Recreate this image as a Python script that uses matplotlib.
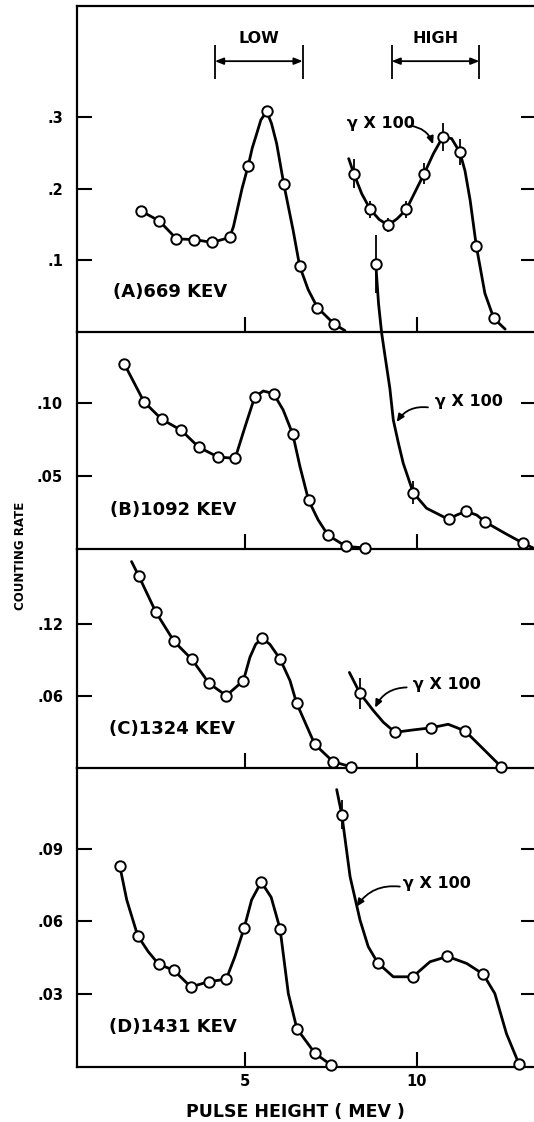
import matplotlib
matplotlib.use("Agg")
import matplotlib.pyplot as plt

# ---- data (x = pulse height MeV, y = counting rate) ----
# panel A, 669 keV
a_pts_x = [1.95, 2.49, 2.99, 3.51, 4.03, 4.54, 5.08, 5.62, 6.12, 6.58, 7.10, 7.59]
a_pts_y = [.169, .155, .130, .129, .125, .132, .232, .308, .206, .092, .034, .011]
a_line_x = [1.95, 2.49, 2.99, 3.51, 4.03, 4.54, 4.65, 4.74, 4.90, 5.08, 5.20, 5.33, 5.45, 5.62, 5.76, 5.91, 6.12, 6.39, 6.58, 6.83, 7.10, 7.59, 7.90]
a_line_y = [.169, .155, .130, .129, .125, .132, .147, .166, .200, .232, .257, .277, .296, .308, .291, .263, .206, .142, .092, .059, .034, .011, .002]
ag_pts_x = [8.16, 8.64, 9.16, 9.69, 10.21, 10.75, 11.25, 11.73, 12.24]
ag_pts_y = [.221, .171, .149, .171, .221, .272, .251, .120, .019]
ag_err = [.020, .012, .010, .012, .015, .020, .018, 0, 0]
ag_line_x = [8.01, 8.16, 8.39, 8.64, 8.90, 9.16, 9.42, 9.69, 9.95, 10.21, 10.48, 10.75, 11.01, 11.25, 11.40, 11.55, 11.73, 11.98, 12.24, 12.57]
ag_line_y = [.242, .221, .193, .171, .157, .149, .158, .171, .196, .221, .249, .272, .270, .251, .225, .184, .120, .054, .019, .004]

# panel B, 1092 keV
b_pts_x = [1.47, 2.04, 2.56, 3.13, 3.64, 4.20, 4.70, 5.27, 5.82, 6.38, 6.84, 7.41, 7.93, 8.48]
b_pts_y = [.1267, .1009, .0888, .0813, .0697, .0630, .0621, .1041, .1064, .0786, .0334, .0094, .0018, .0007]
b_line_x = [1.47, 2.04, 2.56, 3.13, 3.64, 4.20, 4.70, 4.99, 5.27, 5.52, 5.82, 6.10, 6.38, 6.59, 6.84, 7.12, 7.41, 7.93, 8.48]
b_line_y = [.1267, .1009, .0888, .0813, .0697, .0630, .0621, .0838, .1041, .1082, .1064, .0952, .0786, .0564, .0334, .0199, .0094, .0018, .0007]
bg_pts_x = [8.80, 9.89, 10.92, 11.43, 11.99, 13.10]
bg_pts_y = [.195, .0386, .0203, .0258, .0185, .0039]
bg_err = [.020, .008, 0, 0, 0, 0]
bg_line_x = [8.80, 8.88, 8.97, 9.07, 9.21, 9.31, 9.46, 9.60, 9.89, 10.28, 10.92, 11.16, 11.43, 11.74, 11.99, 12.57, 13.10, 13.45]
bg_line_y = [.195, .168, .148, .132, .110, .0884, .0724, .0587, .0386, .0279, .0203, .0233, .0258, .0233, .0185, .0107, .0039, 0.0]

# panel C, 1324 keV
c_pts_x = [1.89, 2.39, 2.92, 3.44, 3.94, 4.44, 4.94, 5.49, 6.01, 6.49, 7.02, 7.55, 8.07]
c_pts_y = [.160, .1297, .1053, .0903, .0703, .0600, .0725, .1078, .0906, .0539, .0194, .0050, .0006]
c_line_x = [1.68, 1.89, 2.39, 2.92, 3.44, 3.94, 4.44, 4.94, 5.13, 5.30, 5.49, 5.71, 6.01, 6.30, 6.49, 7.02, 7.55, 8.07]
c_line_y = [.172, .160, .1297, .1053, .0903, .0703, .0600, .0725, .0920, .1030, .1078, .1030, .0906, .0725, .0539, .0194, .0050, .0006]
cg_pts_x = [8.34, 9.36, 10.40, 11.40, 12.45]
cg_pts_y = [.0619, .0294, .0331, .0306, .0008]
cg_err = [.013, 0, 0, 0, 0]
cg_line_x = [8.03, 8.34, 8.73, 9.02, 9.36, 9.89, 10.40, 10.91, 11.40, 11.93, 12.45]
cg_line_y = [.0794, .0619, .0475, .0378, .0294, .0314, .0331, .0361, .0306, .0156, .0008]

# panel D, 1431 keV
d_pts_x = [1.34, 1.86, 2.47, 2.91, 3.41, 3.93, 4.44, 4.96, 5.46, 6.01, 6.50, 7.03, 7.49]
d_pts_y = [.0827, .0541, .0424, .0399, .0330, .0352, .0362, .0572, .0763, .0569, .0158, .0056, .0009]
d_line_x = [1.34, 1.54, 1.86, 2.17, 2.47, 2.91, 3.41, 3.93, 4.44, 4.69, 4.96, 5.18, 5.46, 5.75, 6.01, 6.25, 6.50, 7.03, 7.49]
d_line_y = [.0827, .0689, .0541, .0475, .0424, .0399, .0330, .0352, .0362, .0454, .0572, .0689, .0763, .0700, .0569, .0303, .0158, .0056, .0009]
dg_pts_x = [7.81, 8.86, 9.88, 10.89, 11.93, 12.97]
dg_pts_y = [.104, .0429, .0372, .0456, .0383, .0014]
dg_err = [.006, 0, 0, 0, 0, 0]
dg_line_x = [7.66, 7.81, 8.05, 8.34, 8.58, 8.86, 9.31, 9.88, 10.38, 10.89, 11.45, 11.93, 12.27, 12.61, 12.97]
dg_line_y = [.1144, .104, .0785, .0606, .0496, .0429, .0372, .0372, .0434, .0456, .0427, .0383, .0303, .0137, .0014]

# y ticks per panel
a_ticks, a_labels = [.1, .2, .3], [".1", ".2", ".3"]
b_ticks, b_labels = [.05, .10], [".05", ".10"]
c_ticks, c_labels = [.06, .12], [".06", ".12"]
d_ticks, d_labels = [.03, .06, .09], [".03", ".06", ".09"]

W, H = 534, 1122
fig = plt.figure(figsize=(W / 100, H / 100), dpi=100)
fig.patch.set_facecolor("white")

FONT = dict(family="DejaVu Sans", fontweight="bold")


def make_axes(top, bottom, ylim, ticks, labels, top_spine=False, xlabels=False):
    ax = fig.add_axes([77 / W, 1 - bottom / H, (536 - 77) / W, (bottom - top) / H])
    ax.patch.set_visible(False)
    ax.set_xlim(0.09, 13.47)
    ax.set_ylim(*ylim)
    ax.spines["right"].set_visible(False)
    ax.spines["top"].set_visible(top_spine)
    for s in ax.spines.values():
        s.set_linewidth(1.6)
    ax.set_xticks([5, 10], ["5", "10"] if xlabels else ["", ""])
    ax.set_yticks(ticks, labels)
    ax.tick_params(direction="in", length=11, width=1.5, labelsize=10.5)
    ax.tick_params(axis="y", right=True, pad=10)
    ax.tick_params(axis="x", top=False, pad=5)
    for t in ax.get_xticklabels() + ax.get_yticklabels():
        t.set_fontweight("bold")
    return ax


def curve(ax, lx, ly, px, py, err=None):
    ax.plot(lx, ly, color="black", lw=2.0, solid_joinstyle="round",
            solid_capstyle="round", zorder=3, clip_on=False)
    if err is not None:
        lo = [y - e for y, e in zip(py, err)]
        hi = [y + e for y, e in zip(py, err)]
        ax.vlines(px, lo, hi, color="black", lw=1.3, zorder=3, clip_on=False)
    ax.plot(px, py, "o", ms=7.5, mfc="white", mec="black", mew=1.4,
            zorder=4, clip_on=False)


def gamma_label(ax, tx, ty, start, end, rad):
    ax.text(tx, ty, "\u03b3 X 100", ha="left", va="center", fontsize=11.5, **FONT)
    ax.annotate("", xy=end, xytext=start,
                arrowprops=dict(arrowstyle="-|>,head_length=0.45,head_width=0.2",
                                connectionstyle=f"arc3,rad={rad}", lw=1.3,
                                color="black", shrinkA=0, shrinkB=0))


axA = make_axes(6, 332, (0, 0.455), a_ticks, a_labels, top_spine=True)
axB = make_axes(332, 549, (0, 0.1486), b_ticks, b_labels)
axC = make_axes(549, 767.5, (0, 0.1825), c_ticks, c_labels)
axD = make_axes(767.5, 1067, (0, 0.1235), d_ticks, d_labels, xlabels=True)

curve(axA, a_line_x, a_line_y, a_pts_x, a_pts_y)
curve(axA, ag_line_x, ag_line_y, ag_pts_x, ag_pts_y, ag_err)
curve(axB, b_line_x, b_line_y, b_pts_x, b_pts_y)
curve(axB, bg_line_x, bg_line_y, bg_pts_x, bg_pts_y, bg_err)
curve(axC, c_line_x, c_line_y, c_pts_x, c_pts_y)
curve(axC, cg_line_x, cg_line_y, cg_pts_x, cg_pts_y, cg_err)
curve(axD, d_line_x, d_line_y, d_pts_x, d_pts_y)
curve(axD, dg_line_x, dg_line_y, dg_pts_x, dg_pts_y, dg_err)

# LOW / HIGH windows
for x0, x1, name in [(4.11, 6.67, "LOW"), (9.26, 11.82, "HIGH")]:
    axA.vlines([x0, x1], 0.353, 0.400, color="black", lw=1.3)
    axA.annotate("", xy=(x1, 0.378), xytext=(x0, 0.378),
                 arrowprops=dict(arrowstyle="<|-|>,head_length=0.5,head_width=0.2",
                                 lw=1.3, color="black", shrinkA=0, shrinkB=0))
    axA.text((x0 + x1) / 2, 0.410, name, ha="center", va="center", fontsize=11.5, **FONT)

# panel labels
axA.text(1.14, 0.056, "(A)669 KEV", ha="left", va="center", fontsize=13, **FONT)
axB.text(1.05, 0.0267, "(B)1092 KEV", ha="left", va="center", fontsize=13, **FONT)
axC.text(1.03, 0.032, "(C)1324 KEV", ha="left", va="center", fontsize=13, **FONT)
axD.text(1.03, 0.0165, "(D)1431 KEV", ha="left", va="center", fontsize=13, **FONT)

gamma_label(axA, 7.96, 0.291, (9.80, 0.288), (10.47, 0.262), -0.3)
gamma_label(axB, 10.52, 0.1009, (10.32, 0.097), (9.41, 0.087), 0.3)
gamma_label(axC, 9.88, 0.0697, (9.70, 0.0669), (8.78, 0.050), 0.3)
gamma_label(axD, 9.59, 0.0758, (9.50, 0.0744), (8.24, 0.0661), 0.3)

fig.text(295 / W, 1 - 1112 / H, "PULSE HEIGHT ( MEV )", ha="center", va="center",
         fontsize=12.5, **FONT)
fig.text(21 / W, 1 - 556 / H, "COUNTING RATE", ha="center", va="center",
         rotation=90, fontsize=8.5, **FONT)

fig.savefig("out.png", dpi=100, facecolor="white")
